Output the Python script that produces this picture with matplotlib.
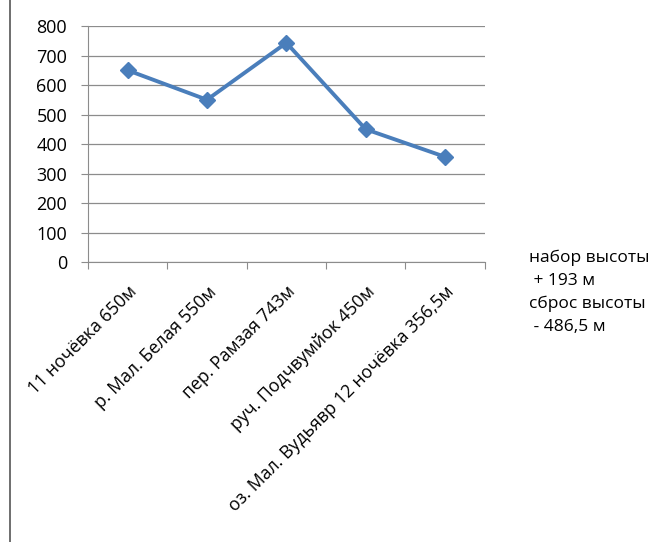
import matplotlib.pyplot as plt
from matplotlib.lines import Line2D

plt.rcParams['font.family'] = ['Open Sans', 'DejaVu Sans']

points = ['11 ночёвка 650м', 'р. Мал. Белая 550м', 'пер. Рамзая 743м',
          'руч. Подчвумйок 450м', 'оз. Мал. Вудьявр 12 ночёвка 356,5м']
heights = [650, 550, 743, 450, 356.5]
note_lines = ['набор высоты', ' + 193 м', 'сброс высоты', ' - 486,5 м']

fig = plt.figure(figsize=(6.64, 5.42), dpi=100)
ax = fig.add_axes([0.1325, 0.5166, 0.5975, 0.4354])

x = list(range(len(points)))
ax.plot(x, heights, color='#4A7EBB', linewidth=2.8, marker='D', markersize=8,
        markerfacecolor='#4A7EBB', markeredgecolor='#4A7EBB', zorder=3)

ax.set_xlim(-0.5, len(points) - 0.5)
ax.set_ylim(0, 800)
ax.set_yticks(range(0, 801, 100))
ax.yaxis.grid(True, color='#8c8c8c', linewidth=0.9)
ax.set_axisbelow(True)

# category labels, ticks sit on the boundaries
ax.set_xticks([i - 0.5 for i in range(len(points) + 1)])
ax.set_xticklabels([])
ax.set_xticks(x, minor=True)
ax.set_xticklabels(points, minor=True, rotation=45, ha='right',
                   rotation_mode='anchor', fontsize=12.8)
ax.tick_params(axis='x', which='minor', length=0, pad=15)
ax.tick_params(axis='x', which='major', length=5, color='#8c8c8c')
ax.tick_params(axis='y', length=5, color='#8c8c8c', labelsize=13, pad=10)

for s in ['top', 'right']:
    ax.spines[s].set_visible(False)
for s in ['left', 'bottom']:
    ax.spines[s].set_color('#8c8c8c')

y0 = 0.524
for i, t in enumerate(note_lines):
    fig.text(0.797, y0 - i * 0.0425, t, fontsize=12.5, va='center', ha='left')

fig.add_artist(Line2D([0.015, 0.015], [0, 1], color='#555555', linewidth=1.2))

fig.savefig('out.png')
